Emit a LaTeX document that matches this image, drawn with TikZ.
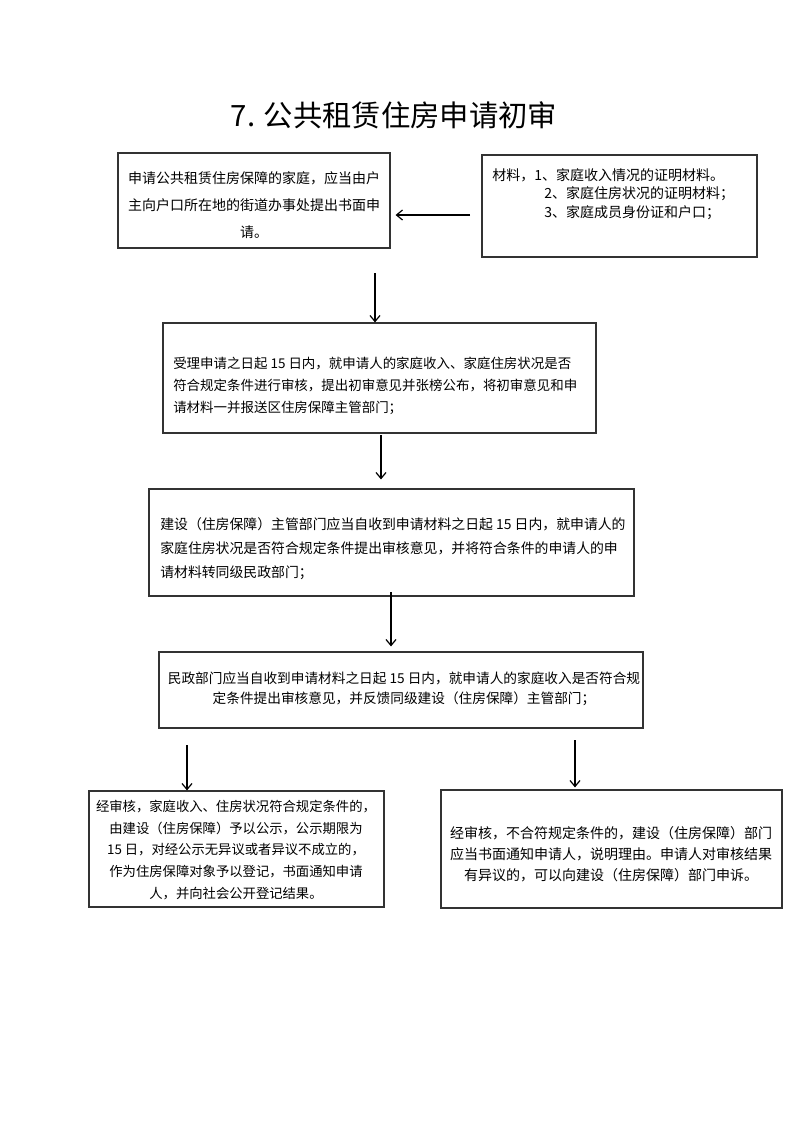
\documentclass[tikz,border=0pt]{standalone}
\usepackage{fontspec}
\setmainfont{Noto Sans CJK SC}
\usetikzlibrary{arrows.meta,fit}
\begin{document}
\begin{tikzpicture}[x=0.75pt,y=-0.75pt,
  box/.style={draw=black!80,line width=0.9pt,inner sep=0pt},
  txt/.style={inner sep=0pt,text=black},
  arr/.style={-{Straight Barb[length=4.5pt,width=7.5pt]},line width=0.9pt}]
\useasboundingbox (0,0) rectangle (793,1122);
% title
\node[txt,font=\fontsize{22pt}{26pt}\selectfont] (title) at (394,115) {7. 公共租赁住房申请初审};
% boxes
\node[box,fit={(118,153) (390,248)}] (A) {};
\node[box,fit={(482,155) (757,257)}] (B) {};
\node[box,fit={(163,323) (596,433)}] (C) {};
\node[box,fit={(149,489) (634,596)}] (D) {};
\node[box,fit={(159,652) (643,728)}] (E) {};
\node[box,fit={(89,791) (384,907)}] (F) {};
\node[box,fit={(441,790) (782,908)}] (G) {};
% texts
\node[txt,align=center,font=\fontsize{10.5pt}{20pt}\selectfont] (At) at (254,205)
 {申请公共租赁住房保障的家庭，应当由户\\主向户口所在地的街道办事处提出书面申\\请。};
\node[txt,align=left,anchor=west,font=\fontsize{10.5pt}{14pt}\selectfont] (Bt) at (492,194)
 {材料，1、家庭收入情况的证明材料。\\\hspace*{39pt}2、家庭住房状况的证明材料；\\\hspace*{39pt}3、家庭成员身份证和户口；};
\node[txt,align=left,anchor=west,font=\fontsize{10.1pt}{16.5pt}\selectfont] (Ct) at (173,386)
 {受理申请之日起 15 日内，就申请人的家庭收入、家庭住房状况是否\\符合规定条件进行审核，提出初审意见并张榜公布，将初审意见和申\\请材料一并报送区住房保障主管部门；};
\node[txt,align=left,anchor=west,font=\fontsize{10.4pt}{18pt}\selectfont] (Dt) at (160,549)
 {建设（住房保障）主管部门应当自收到申请材料之日起 15 日内，就申请人的\\家庭住房状况是否符合规定条件提出审核意见，并将符合条件的申请人的申\\请材料转同级民政部门；};
\node[txt,align=center,font=\fontsize{10.25pt}{15pt}\selectfont] (Et) at (404,689)
 {民政部门应当自收到申请材料之日起 15 日内，就申请人的家庭收入是否符合规\\定条件提出审核意见，并反馈同级建设（住房保障）主管部门；};
\node[txt,align=center,font=\fontsize{10pt}{16.2pt}\selectfont] (Ft) at (236,850)
 {经审核，家庭收入、住房状况符合规定条件的，\\由建设（住房保障）予以公示，公示期限为\\15 日，对经公示无异议或者异议不成立的，\\作为住房保障对象予以登记，书面通知申请\\人，并向社会公开登记结果。};
\node[txt,align=center,font=\fontsize{10.5pt}{15.8pt}\selectfont] (Gt) at (611,854)
 {经审核，不合符规定条件的，建设（住房保障）部门\\应当书面通知申请人，说明理由。申请人对审核结果\\有异议的，可以向建设（住房保障）部门申诉。};
% arrows
\coordinate (s1) at (470,215);
\coordinate (s2) at (375,273);
\coordinate (s3) at (381,435);
\coordinate (s4) at (391,592);
\coordinate (s5) at (187,745);
\coordinate (s6) at (575,740);
\draw[arr,shorten >=3.75pt] (s1) -- (s1 -| A.east);
\draw[arr] (s2) -- (s2 |- C.north);
\draw[arr,shorten >=6.75pt] (s3) -- (s3 |- D.north);
\draw[arr,shorten >=3.75pt] (s4) -- (s4 |- E.north);
\draw[arr] (s5) -- (s5 |- F.north);
\draw[arr,shorten >=1.5pt] (s6) -- (s6 |- G.north);
\end{tikzpicture}
\end{document}
